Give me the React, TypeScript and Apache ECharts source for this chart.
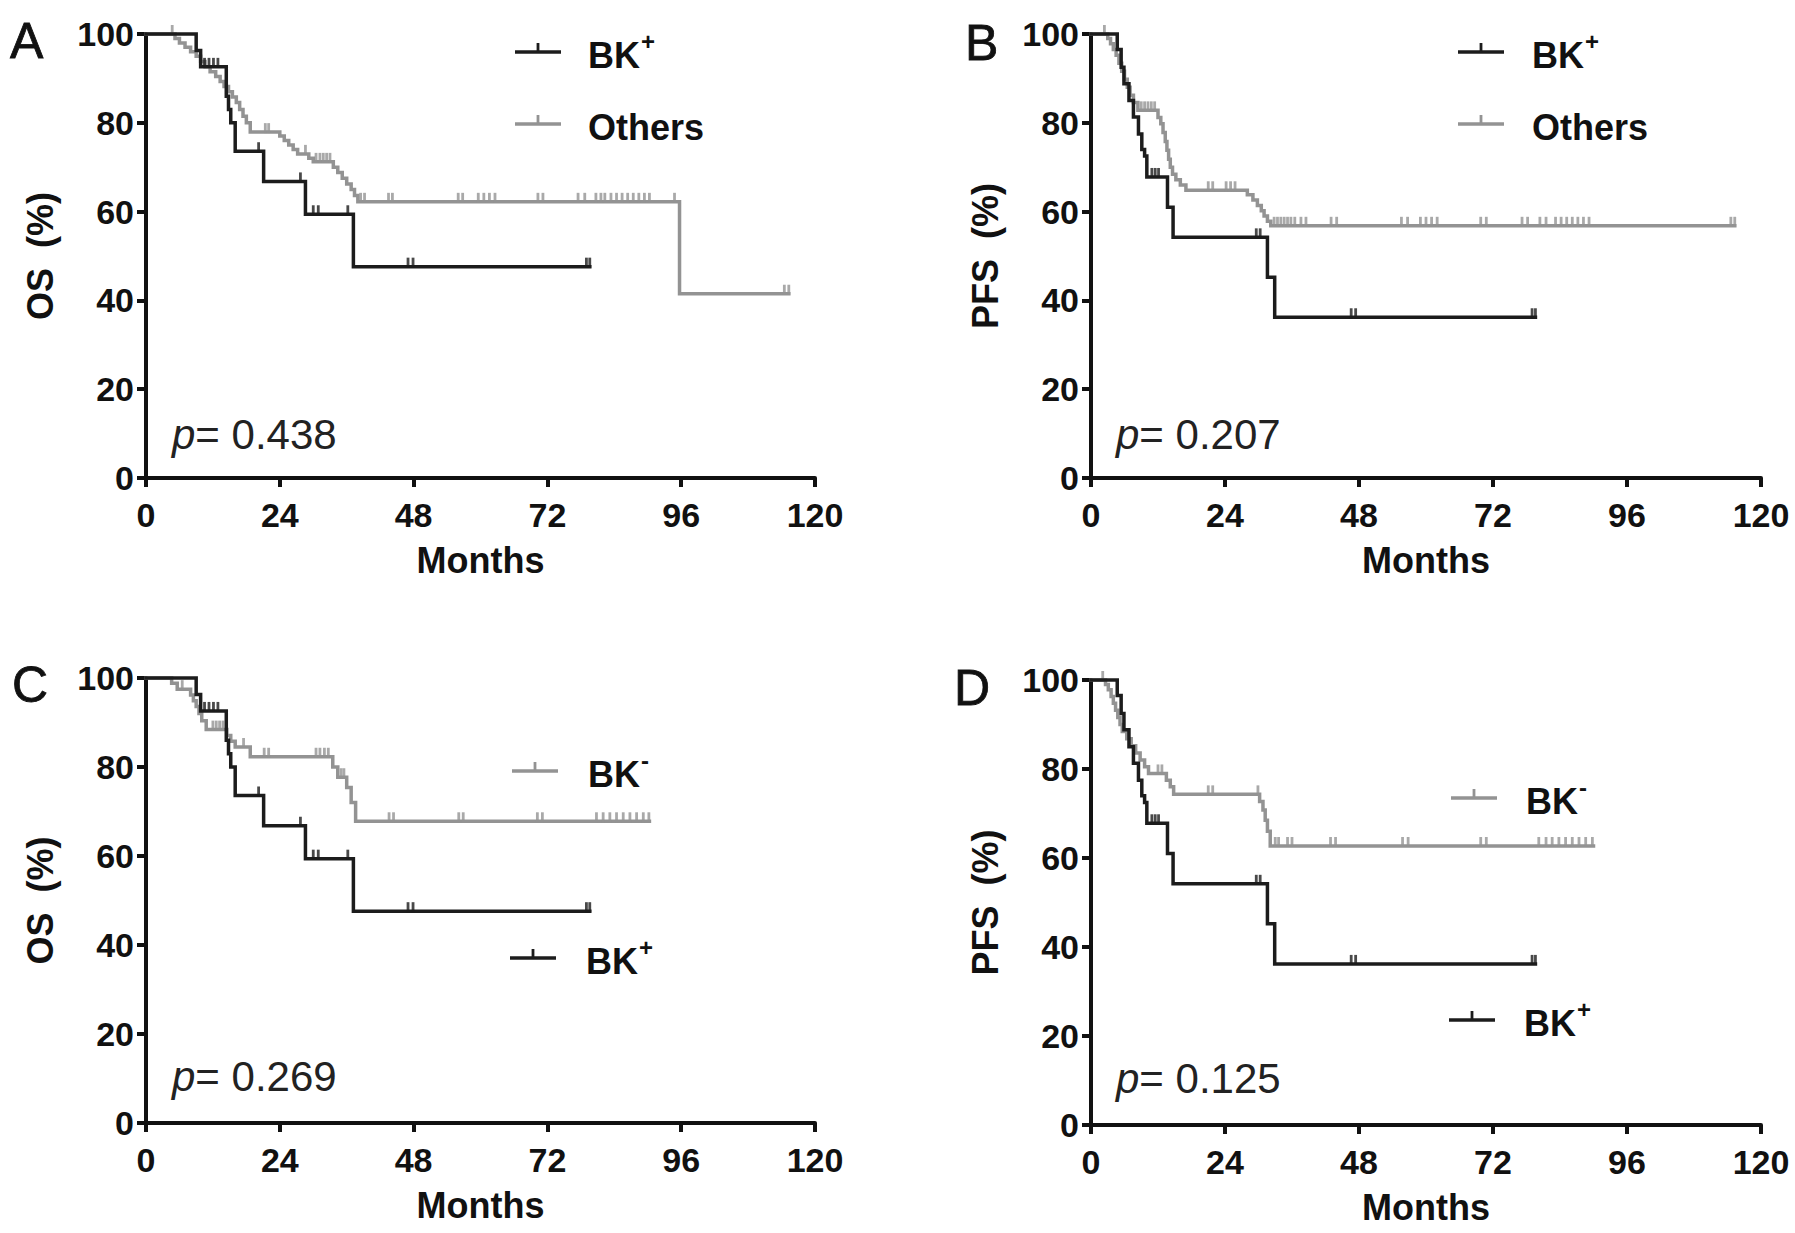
import React, { useEffect, useRef } from "react";
import * as echarts from "echarts";

// ---------- Data (Kaplan–Meier curves) ----------
const xMin = 0;
const xMax = 120;
const xInterval = 24;
const yMin = 0;
const yMax = 100;
const yInterval = 20;

// OS, BK+ (panels A and C)
const osPosT = [0, 9.0, 9.8, 14.4, 14.8, 15.2, 16.0, 21.1, 28.6, 37.2];
const osPosS = [100, 96.3, 92.6, 86.0, 83.0, 80.0, 73.6, 66.8, 59.4, 47.6];
const osPosCensor = [10.5, 11.3, 12.1, 12.9, 20.2, 27.7, 30.0, 30.9, 36.2, 47.0, 47.9, 79.0, 79.6];
const osPosEnd = 79.6;

// OS, Others (panel A)
const osOthT = [0, 5.2, 6.0, 7.0, 8.0, 9.0, 9.8, 10.6, 11.5, 12.5, 13.3, 14.0, 14.8, 15.5, 16.2, 16.8, 17.4, 18.0, 18.7, 24.0, 24.8, 25.6, 26.4, 27.2, 29.2, 30.0, 33.6, 34.4, 35.2, 36.0, 36.8, 37.4, 38.0, 95.7];
const osOthS = [100, 99.0, 98.0, 97.0, 96.0, 95.0, 93.8, 92.6, 91.5, 90.4, 89.3, 88.2, 87.0, 85.8, 84.6, 83.0, 81.5, 80.0, 77.9, 77.0, 76.0, 75.0, 74.0, 73.0, 72.0, 71.2, 70.0, 68.8, 67.5, 66.2, 65.0, 63.6, 62.2, 41.5];
const osOthCensor = [4.7, 21.4, 22.0, 28.6, 30.5, 31.2, 31.8, 32.4, 33.0, 38.5, 39.2, 43.5, 44.2, 56.0, 56.8, 59.6, 60.6, 61.6, 62.6, 70.3, 71.2, 77.5, 78.7, 80.7, 81.6, 82.3, 83.4, 84.4, 85.4, 86.4, 87.4, 88.4, 89.4, 90.3, 94.8, 114.5, 115.3];
const osOthEnd = 115.3;

// PFS, BK+ (panels B and D)
const pfsPosT = [0, 4.7, 5.4, 5.9, 6.8, 7.6, 8.5, 9.1, 9.6, 10.0, 13.7, 14.7, 31.6, 32.9];
const pfsPosS = [100, 96.5, 92.5, 88.8, 85.0, 81.3, 77.5, 74.0, 72.5, 67.8, 61.0, 54.2, 45.2, 36.2];
const pfsPosCensor = [10.9, 11.5, 12.1, 29.6, 30.3, 46.6, 47.4, 79.0, 79.6];
const pfsPosEnd = 79.6;

// PFS, Others (panel B)
const pfsOthT = [0, 3.0, 3.5, 4.0, 4.5, 5.0, 5.5, 6.0, 6.5, 7.0, 7.6, 8.4, 12.0, 12.5, 12.9, 13.3, 13.6, 13.9, 14.2, 14.6, 15.2, 16.0, 17.0, 28.0, 29.0, 29.8, 30.5, 31.0, 31.6, 32.2];
const pfsOthS = [100, 99.0, 97.8, 96.5, 95.2, 93.4, 91.6, 89.8, 88.0, 86.2, 84.6, 82.8, 81.2, 79.8, 77.8, 75.8, 73.8, 71.8, 70.0, 68.4, 67.2, 66.0, 64.8, 63.8, 62.6, 61.4, 60.2, 59.0, 57.8, 56.8];
const pfsOthCensor = [2.4, 9.0, 9.6, 10.2, 10.8, 11.4, 21.0, 21.8, 24.2, 25.0, 25.8, 32.8, 33.4, 34.0, 34.6, 35.2, 35.8, 36.5, 37.6, 38.5, 43.0, 44.0, 55.6, 56.7, 59.0, 60.0, 61.0, 62.0, 69.8, 70.8, 77.2, 78.2, 80.4, 81.5, 83.2, 84.2, 85.2, 86.2, 87.2, 88.2, 89.2, 114.6, 115.3];
const pfsOthEnd = 115.3;

// OS, BK- (panel C)
const osNegT = [0, 4.6, 5.6, 8.0, 8.5, 9.0, 9.5, 10.0, 10.8, 14.5, 15.2, 16.0, 18.7, 33.5, 34.4, 36.0, 36.8, 37.6];
const osNegS = [100, 98.8, 97.5, 96.2, 94.9, 93.6, 92.0, 90.4, 88.4, 87.1, 85.8, 84.5, 82.3, 80.0, 77.7, 75.4, 72.0, 67.8];
const osNegCensor = [6.5, 12.0, 12.6, 13.2, 13.8, 17.5, 21.2, 22.0, 30.5, 31.2, 32.0, 32.7, 35.0, 35.5, 43.6, 44.4, 56.1, 56.9, 70.2, 71.1, 80.8, 82.0, 83.2, 84.4, 85.6, 86.8, 88.0, 89.2, 90.2];
const osNegEnd = 90.3;

// PFS, BK- (panel D)
const pfsNegT = [0, 2.6, 3.1, 3.6, 4.0, 4.4, 4.8, 5.2, 5.6, 6.4, 7.2, 8.0, 8.8, 9.6, 10.3, 13.5, 14.2, 14.8, 30.2, 30.8, 31.2, 31.6, 32.1];
const pfsNegS = [100, 99.0, 97.8, 96.3, 94.8, 93.2, 91.6, 90.0, 88.4, 86.8, 85.2, 83.6, 82.0, 80.5, 79.0, 77.5, 76.0, 74.3, 72.7, 70.8, 68.5, 66.0, 62.7];
const pfsNegCensor = [2.1, 12.0, 12.7, 21.0, 21.8, 29.9, 33.0, 33.6, 35.2, 36.0, 42.9, 43.8, 55.8, 56.8, 69.8, 70.8, 80.2, 81.5, 82.6, 83.8, 85.0, 86.2, 87.4, 88.6, 89.8];
const pfsNegEnd = 90.0;

const panelLetters = ["A", "B", "C", "D"];
const yNames = ["OS  (%)", "PFS  (%)", "OS  (%)", "PFS  (%)"];
const pValues = ["0.438", "0.207", "0.269", "0.125"];
const xName = "Months";

// ---------- Styles ----------
const DARK = "#1c1c1c";
const GRAY = "#939393";
const INK = "#111111";
const FONT = '"Liberation Sans", Arial, Helvetica, sans-serif';
const TICK_FONT = '"Liberation Sans Narrow", "Liberation Sans", Arial, sans-serif';

function survivalAt(T: number[], S: number[], t: number): number {
  let v = S[0];
  for (let i = 0; i < T.length; i++) {
    if (T[i] <= t) v = S[i];
  }
  return v;
}

type Curve = { T: number[]; S: number[]; C: number[]; end: number; color: string; z: number };

const panelCurves: Curve[][] = [
  [
    { T: osOthT, S: osOthS, C: osOthCensor, end: osOthEnd, color: GRAY, z: 3 },
    { T: osPosT, S: osPosS, C: osPosCensor, end: osPosEnd, color: DARK, z: 4 },
  ],
  [
    { T: pfsOthT, S: pfsOthS, C: pfsOthCensor, end: pfsOthEnd, color: GRAY, z: 3 },
    { T: pfsPosT, S: pfsPosS, C: pfsPosCensor, end: pfsPosEnd, color: DARK, z: 4 },
  ],
  [
    { T: osNegT, S: osNegS, C: osNegCensor, end: osNegEnd, color: GRAY, z: 3 },
    { T: osPosT, S: osPosS, C: osPosCensor, end: osPosEnd, color: DARK, z: 4 },
  ],
  [
    { T: pfsNegT, S: pfsNegS, C: pfsNegCensor, end: pfsNegEnd, color: GRAY, z: 3 },
    { T: pfsPosT, S: pfsPosS, C: pfsPosCensor, end: pfsPosEnd, color: DARK, z: 4 },
  ],
];

const grids = [
  { left: 146, top: 34, width: 669, height: 444 },
  { left: 1091, top: 34, width: 670, height: 444 },
  { left: 146, top: 678, width: 669, height: 445 },
  { left: 1091, top: 680, width: 670, height: 445 },
];

// legend layouts: [lineX, lineY, textX, label, superscript, color]
const legendLayouts: [number, number, number, string, string, string][][] = [
  [
    [515, 52, 588, "BK", "+", DARK],
    [515, 124, 588, "Others", "", GRAY],
  ],
  [
    [1458, 52, 1532, "BK", "+", DARK],
    [1458, 124, 1532, "Others", "", GRAY],
  ],
  [
    [512, 771, 588, "BK", "-", GRAY],
    [510, 958, 586, "BK", "+", DARK],
  ],
  [
    [1451, 798, 1526, "BK", "-", GRAY],
    [1449, 1020, 1524, "BK", "+", DARK],
  ],
];

const letterPos = [
  [10, 16],
  [965, 18],
  [12, 660],
  [954, 663],
];
const pPos = [
  [172, 434],
  [1116, 434],
  [172, 1076],
  [1116, 1078],
];

function buildOption() {
  const axisLineStyle = { color: INK, width: 4 };
  const xAxis: any[] = [];
  const yAxis: any[] = [];
  const series: any[] = [];
  const graphic: any[] = [];

  grids.forEach((g, i) => {
    xAxis.push({
      gridIndex: i,
      type: "value",
      min: xMin,
      max: xMax,
      interval: xInterval,
      name: xName,
      nameLocation: "middle",
      nameGap: 64,
      nameTextStyle: { fontFamily: FONT, fontWeight: "bold", fontSize: 36, color: INK },
      axisLine: { show: true, onZero: false, lineStyle: axisLineStyle },
      axisTick: { show: true, length: 9, lineStyle: { color: INK, width: 4 } },
      axisLabel: { margin: 20, fontFamily: TICK_FONT, fontWeight: "bold", fontSize: 34, color: INK },
      splitLine: { show: false },
    });
    yAxis.push({
      gridIndex: i,
      type: "value",
      min: yMin,
      max: yMax,
      interval: yInterval,
      name: yNames[i],
      nameLocation: "middle",
      nameGap: 88,
      nameTextStyle: { fontFamily: FONT, fontWeight: "bold", fontSize: 36, color: INK },
      axisLine: { show: true, onZero: false, lineStyle: axisLineStyle },
      axisTick: { show: true, length: 9, lineStyle: { color: INK, width: 4 } },
      axisLabel: { margin: 12, fontFamily: TICK_FONT, fontWeight: "bold", fontSize: 34, color: INK },
      splitLine: { show: false },
    });

    panelCurves[i].forEach((c) => {
      const pts = c.T.map((t, k) => [t, c.S[k]]);
      pts.push([c.end, c.S[c.S.length - 1]]);
      series.push({
        type: "line",
        xAxisIndex: i,
        yAxisIndex: i,
        step: "end",
        showSymbol: false,
        symbol: "none",
        clip: false,
        silent: true,
        z: c.z,
        lineStyle: { width: 3.5, color: c.color, cap: "square", join: "miter" },
        itemStyle: { color: c.color },
        data: pts,
      });
      series.push({
        type: "scatter",
        xAxisIndex: i,
        yAxisIndex: i,
        symbol: "rect",
        symbolSize: [2.8, 10],
        symbolOffset: [0, -4],
        clip: false,
        silent: true,
        z: c.z,
        itemStyle: { color: c.color },
        data: c.C.map((t) => [t, survivalAt(c.T, c.S, t)]),
      });
    });

    // panel letter
    graphic.push({
      type: "text",
      x: letterPos[i][0],
      y: letterPos[i][1],
      style: {
        text: panelLetters[i],
        fontFamily: FONT,
        fontSize: 50,
        fontWeight: "normal",
        fill: INK,
        stroke: INK,
        lineWidth: 0.8,
        align: "left",
        verticalAlign: "top",
      },
    });

    // p value
    graphic.push({
      type: "text",
      x: pPos[i][0],
      y: pPos[i][1],
      style: {
        text: "{i|p}{n|= " + pValues[i] + "}",
        fill: "#222",
        align: "left",
        verticalAlign: "middle",
        rich: {
          i: { fontFamily: FONT, fontSize: 42, fontStyle: "italic", fill: "#222" },
          n: { fontFamily: FONT, fontSize: 42, fill: "#222" },
        },
      },
    });

    // legend
    legendLayouts[i].forEach(([lx, ly, tx, label, sup, color]) => {
      graphic.push({
        type: "line",
        shape: { x1: lx, y1: ly, x2: lx + 46, y2: ly },
        style: { stroke: color, lineWidth: 3.5 },
      });
      graphic.push({
        type: "line",
        shape: { x1: lx + 23, y1: ly, x2: lx + 23, y2: ly - 9 },
        style: { stroke: color, lineWidth: 2.8 },
      });
      graphic.push({
        type: "text",
        x: tx,
        y: ly + 3,
        style: {
          text: label,
          fontFamily: FONT,
          fontSize: 36,
          fontWeight: "bold",
          fill: INK,
          align: "left",
          verticalAlign: "middle",
        },
      });
      if (sup) {
        graphic.push({
          type: "text",
          x: tx + 53,
          y: ly - 11,
          style: {
            text: sup,
            fontFamily: FONT,
            fontSize: 24,
            fontWeight: "bold",
            fill: INK,
            align: "left",
            verticalAlign: "middle",
          },
        });
      }
    });
  });

  return {
    animation: false,
    backgroundColor: "#ffffff",
    grid: grids.map((g) => ({ ...g, containLabel: false })),
    xAxis,
    yAxis,
    series,
    graphic,
  };
}

export default function App() {
  const ref = useRef<HTMLDivElement>(null);
  useEffect(() => {
    document.body.style.margin = "0";
    if (!ref.current) return;
    const chart = echarts.init(ref.current, undefined, { renderer: "svg" });
    chart.setOption(buildOption() as any);
    return () => {
      chart.dispose();
    };
  }, []);
  return <div ref={ref} style={{ width: 1795, height: 1233, background: "#fff" }} />;
}
